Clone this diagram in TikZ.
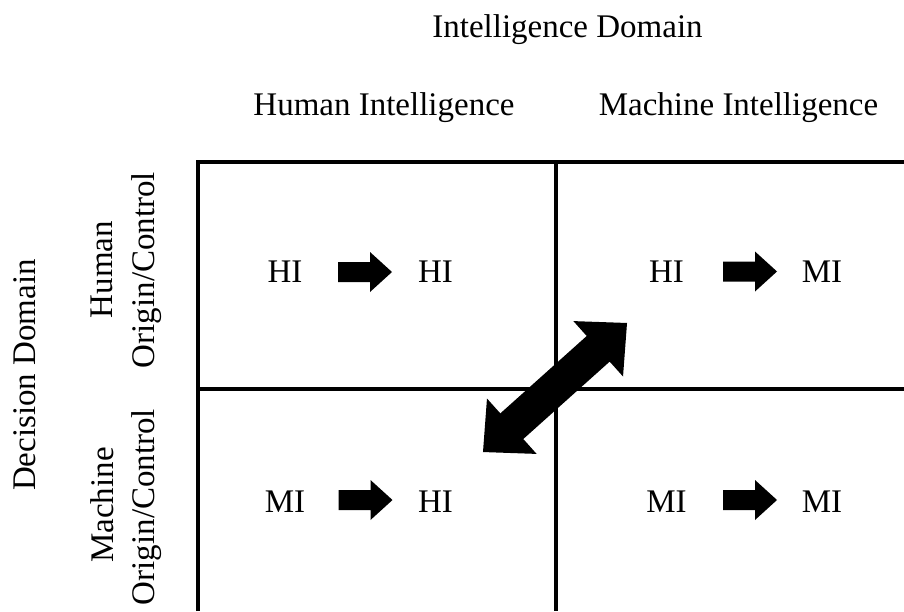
\documentclass[tikz,border=0pt]{standalone}
\usepackage{fontspec}
\setmainfont{Liberation Serif}
\begin{document}
\begin{tikzpicture}[x=1pt,y=-1pt,
  lbl/.style={inner sep=0pt, anchor=base, font=\fontsize{33}{42}\selectfont},
  vlbl/.style={lbl, rotate=90, align=center},
  gridline/.style={line width=4pt},
  fatarrow/.style={fill=black, draw=none}]
\useasboundingbox (0,0) rectangle (904,611);
% grid
\coordinate (g0) at (198,611);
\coordinate (g1) at (198,162);
\coordinate (g2) at (904,162);
\coordinate (m0) at (556,162);
\coordinate (m1) at (556,611);
\coordinate (h0) at (198,389);
\coordinate (h1) at (904,389);
\draw[gridline, line join=miter] (g0) -- (g1) -- (g2);
\draw[gridline] (m0) -- (m1);
\draw[gridline] (h0) -- (h1);
% headings
\node[lbl] (dom) at (567.5,37) {Intelligence Domain};
\node[lbl] (hum) at (384,115) {Human Intelligence};
\node[lbl] (mac) at (738.5,115) {Machine Intelligence};
\node[lbl, rotate=90] (dec) at (35,375) {Decision Domain};
\node[lbl, rotate=90] (h1a) at (112,269.5) {Human};
\node[lbl, rotate=90] (h1b) at (154.5,270) {Origin/Control};
\node[lbl, rotate=90] (m1a) at (113,505) {Machine};
\node[lbl, rotate=90] (m1b) at (154.5,507) {Origin/Control};
% cell labels
\node[lbl] (a1) at (285,282) {HI};
\node[lbl] (a2) at (435.5,282) {HI};
\node[lbl] (b1) at (666.5,282) {HI};
\node[lbl] (b2) at (822,282) {MI};
\node[lbl] (c1) at (285,512) {MI};
\node[lbl] (c2) at (435.5,512) {HI};
\node[lbl] (d1) at (666.5,512) {MI};
\node[lbl] (d2) at (822,512) {MI};
% small block arrows
\foreach \px/\py in {338/272, 338.5/500, 723/271.5, 723/500}{
  \fill[fatarrow] (\px,\py-10) -- ++(32,0) -- ++(0,-10) -- ++(22,20) -- ++(-22,20) -- ++(0,-10) -- ++(-32,0) -- cycle;
}
% big double arrow
\begin{scope}[shift={(555,387.5)}, rotate=41.86]
\fill[fatarrow] (96.7,0) -- (58,37.2) -- (58,17.2) -- (-58,17.2) -- (-58,37.2) -- (-96.7,0)
  -- (-58,-37.2) -- (-58,-17.2) -- (58,-17.2) -- (58,-37.2) -- cycle;
\end{scope}
\end{tikzpicture}
\end{document}
